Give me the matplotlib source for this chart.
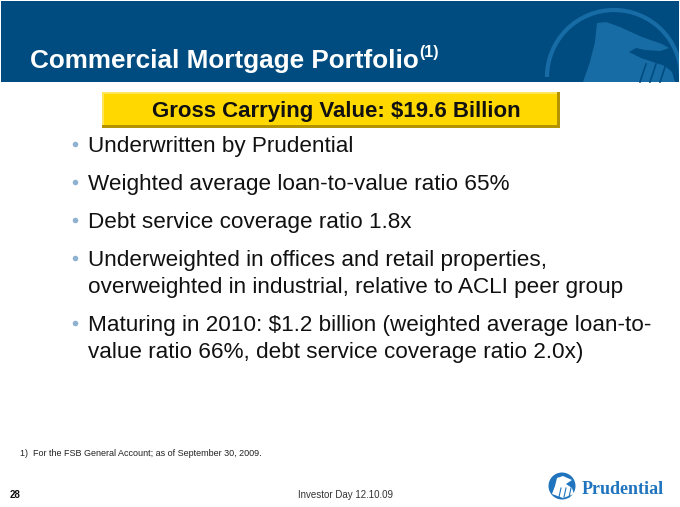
import matplotlib
matplotlib.use('Agg')
import matplotlib.pyplot as plt
from matplotlib.patches import Rectangle, Polygon, Circle, Arc

plt.rcParams['font.family'] = ['Liberation Sans', 'DejaVu Sans']

TITLE = 'Commercial Mortgage Portfolio'
TITLE_NOTE = '(1)'
HIGHLIGHT = 'Gross Carrying Value: $19.6 Billion'
BULLETS = [
    ['Underwritten by Prudential'],
    ['Weighted average loan-to-value ratio 65%'],
    ['Debt service coverage ratio 1.8x'],
    ['Underweighted in offices and retail properties,',
     'overweighted in industrial, relative to ACLI peer group'],
    ['Maturing in 2010: $1.2 billion (weighted average loan-to-',
     'value ratio 66%, debt service coverage ratio 2.0x)'],
]
FOOTNOTE = '1)  For the FSB General Account; as of September 30, 2009.'
PAGE = '28'
EVENT = 'Investor Day 12.10.09'
BRAND = 'Prudential'

NAVY = '#004C80'
WATER = '#176CA5'
GOLD = '#FFD800'
DOT = '#8FB2D2'
LOGO = '#1F74BD'

fig = plt.figure(figsize=(6.8, 5.07), dpi=100)
ax = fig.add_axes([0, 0, 1, 1])
ax.set_xlim(0, 680)
ax.set_ylim(507, 0)
ax.axis('off')

# header band + rock watermark
band = Rectangle((1, 1), 678, 81, fc=NAVY, ec='none')
ax.add_patch(band)
wm = [Arc((614, 77), 134, 134, theta1=180, theta2=360, ec=WATER, lw=3)]
rock = [(583, 82), (590, 62), (595, 42), (597, 23), (606, 22), (620, 27),
        (642, 37), (662, 44), (669, 48), (660, 51), (645, 50), (636, 48),
        (629, 52), (641, 58), (653, 62), (665, 66), (672, 72), (675, 82)]
wm.append(Polygon(rock, closed=True, fc=WATER, ec='none'))
for p in wm:
    ax.add_patch(p)
    p.set_clip_path(band)
# thin navy cut lines in the rock base
for xs in [(640, 646), (650, 656), (660, 666)]:
    ax.plot([xs[0], xs[1]], [82, 64], color=NAVY, lw=1.2)

t = ax.text(30, 61, TITLE, color='white', fontsize=18.8, fontweight='bold',
            va='center', ha='left')
fig.canvas.draw()
bb = t.get_window_extent().transformed(ax.transData.inverted())
ax.text(bb.x1 + 1, 53, TITLE_NOTE, color='white', fontsize=11.5,
        fontweight='bold', va='center', ha='left')

# highlight box with bevel
x0, y0, x1, y1 = 102, 92, 560, 128
ax.add_patch(Rectangle((x0, y0), x1 - x0, y1 - y0, fc='#B39400', ec='none'))
ax.add_patch(Rectangle((x0, y0), x1 - x0 - 3, y1 - y0 - 3, fc='#FFE55C', ec='none'))
ax.add_patch(Rectangle((x0 + 2, y0 + 2), x1 - x0 - 5, y1 - y0 - 5, fc=GOLD, ec='none'))
ax.text(336, 111, HIGHLIGHT, fontsize=16, fontweight='bold',
        color='#111111', ha='center', va='center')

# bullets
baselines = [[152], [190], [228], [266, 293], [331, 358]]
for lines, ys in zip(BULLETS, baselines):
    ax.plot(75, ys[0] - 8, 'o', ms=4, color=DOT, mec='none')
    for txt, yb in zip(lines, ys):
        ax.text(88, yb, txt, fontsize=16.2, color='#111111',
                ha='left', va='baseline')

# footer
ax.text(20, 453, FOOTNOTE, fontsize=6.5, color='#222222', va='center')
ax.text(10, 495, PAGE, fontsize=7, fontweight='bold', color='#111111', va='center')
ax.text(298, 495, EVENT, fontsize=7, color='#333333', va='center')

# logo
ax.add_patch(Circle((562, 486), 13.5, fc=LOGO, ec='none'))
emblem = [(552, 494), (555, 486), (557, 478), (563, 476), (572, 480),
          (566, 484), (572, 488), (574, 494), (563, 498)]
ax.add_patch(Polygon(emblem, closed=True, fc='white', ec='none'))
for xs in [(559, 561), (564, 566), (569, 571)]:
    ax.plot([xs[0], xs[1]], [497, 488], color=LOGO, lw=0.8)
ax.text(582, 489, BRAND, fontsize=13, fontweight='bold', color=LOGO,
        family=['Liberation Serif', 'DejaVu Serif'], va='center', ha='left')

fig.savefig('out.png', dpi=100)
